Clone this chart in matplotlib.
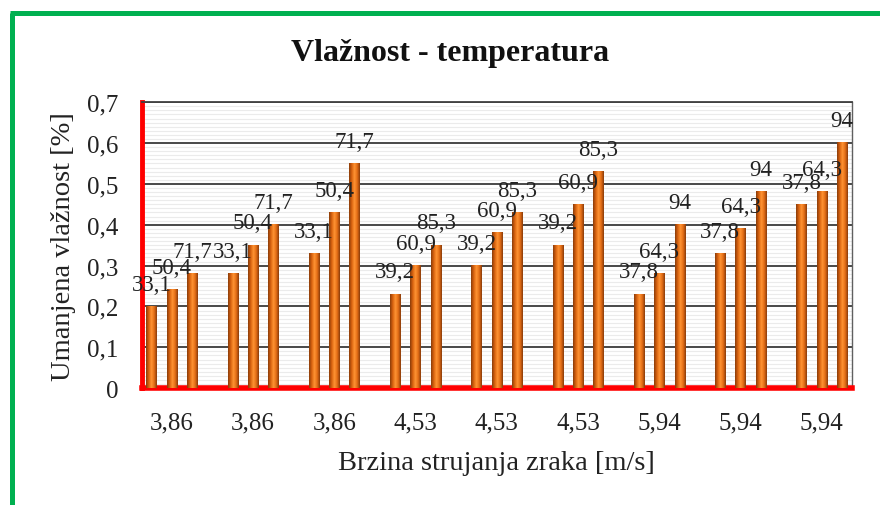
#bar chart of reduced humidity vs air flow speed, with temperature labels on each bar
import numpy as np
import matplotlib
matplotlib.use("Agg")
import matplotlib.pyplot as plt
from matplotlib.colors import LinearSegmentedColormap
from matplotlib.lines import Line2D

#category labels on the x axis (air speed in m/s)
speeds = ['3,86', '3,86', '3,86', '4,53', '4,53', '4,53', '5,94', '5,94', '5,94']

#three bars per category
bar_a = [0.20, 0.28, 0.33, 0.23, 0.30, 0.35, 0.23, 0.33, 0.45]
bar_b = [0.24, 0.35, 0.43, 0.30, 0.38, 0.45, 0.28, 0.39, 0.48]
bar_c = [0.28, 0.40, 0.55, 0.35, 0.43, 0.53, 0.40, 0.48, 0.60]

#temperature labels written above the bars
label_a = ['33,1', '33,1', '33,1', '39,2', '39,2', '39,2', '37,8', '37,8', '37,8']
label_b = ['50,4', '50,4', '50,4', '60,9', '60,9', '60,9', '64,3', '64,3', '64,3']
label_c = ['71,7', '71,7', '71,7', '85,3', '85,3', '85,3', '94', '94', '94']

plt.rcParams['font.family'] = ['Liberation Serif', 'DejaVu Serif']

fig = plt.figure(figsize=(8.8, 5.06), dpi=100)
ax = fig.add_axes([0.161, 0.231, 0.807, 0.565])

x = np.arange(len(speeds))
width = 0.125
step = 0.25

#cylinder look for the bars
cyl = LinearSegmentedColormap.from_list(
    'cyl', ['#8a3c0a', '#d8620f', '#ff9433', '#e46d16', '#8a3c0a'])
grad = np.linspace(0, 1, 64).reshape(1, -1)

for vals, labels, off in [(bar_a, label_a, -step), (bar_b, label_b, 0), (bar_c, label_c, step)]:
    bars = ax.bar(x + off, vals, width, color='none', edgecolor='none', zorder=3)
    for rect, lab in zip(bars, labels):
        bx, bw, bh = rect.get_x(), rect.get_width(), rect.get_height()
        ax.imshow(grad, cmap=cyl, extent=[bx, bx + bw, 0, bh], aspect='auto', zorder=3)
        ax.annotate(lab, (bx + bw / 2, bh), xytext=(0, 16), textcoords='offset points',
                    ha='center', va='center', fontsize=16.5, color='#222222', zorder=5)

ax.set_xlim(-0.37, len(speeds) - 1 + 0.37)
ax.set_ylim(0, 0.7)

#gridlines: dark major lines and very light minor lines
ax.set_yticks(np.arange(0, 0.71, 0.1))
ax.set_yticks(np.arange(0, 0.7, 0.01), minor=True)
ax.set_yticklabels(['0'] + [f'{v:.1f}'.replace('.', ',') for v in np.arange(0.1, 0.71, 0.1)])
ax.grid(axis='y', which='major', color='#3a3a3a', linewidth=1.3, zorder=1)
ax.grid(axis='y', which='minor', color='#ebebeb', linewidth=0.8, zorder=0)
ax.set_axisbelow(True)

ax.set_xticks(x)
ax.set_xticklabels(speeds)
ax.tick_params(axis='both', which='both', length=0, labelsize=18, colors='#222222')
ax.tick_params(axis='x', pad=17)
ax.tick_params(axis='y', pad=17)

#red axes lines on the left and bottom
ax.spines['left'].set_color('#ff0000')
ax.spines['left'].set_linewidth(3.5)
ax.spines['bottom'].set_color('#ff0000')
ax.spines['bottom'].set_linewidth(4)
ax.spines['top'].set_color('#404040')
ax.spines['top'].set_linewidth(1.3)
ax.spines['right'].set_color('#606060')
ax.spines['right'].set_linewidth(1)

ax.set_xlabel('Brzina strujanja zraka [m/s]', fontsize=20.5, color='#222222', labelpad=12)
ax.set_ylabel('Umanjena vlažnost [%]', fontsize=20.5, color='#222222', labelpad=8)
fig.text(0.511, 0.895, 'Vlažnost - temperatura', ha='center', va='center',
         fontsize=23, fontweight='bold', color='#111111')

#green frame around the chart (open on the right and bottom)
fig.add_artist(Line2D([12 / 880, 12 / 880], [0, 1 - 14 / 506], color='#00b050',
                      linewidth=3.6, transform=fig.transFigure, solid_capstyle='butt'))
fig.add_artist(Line2D([10 / 880, 1], [1 - 14 / 506, 1 - 14 / 506], color='#00b050',
                      linewidth=3.6, transform=fig.transFigure, solid_capstyle='butt'))

fig.savefig('out.png', dpi=100)
